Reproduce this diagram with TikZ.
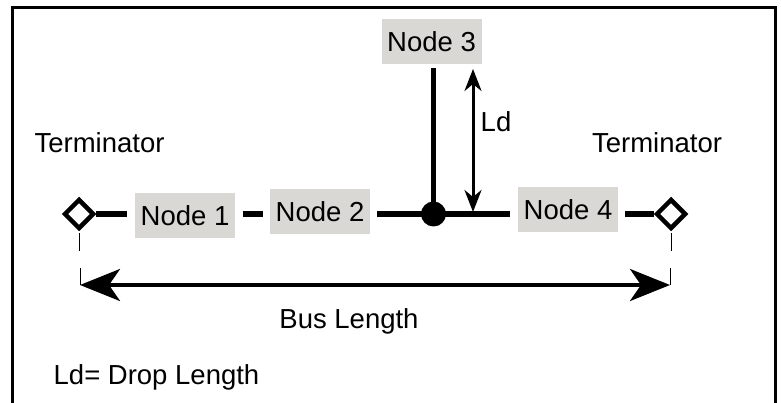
\documentclass[tikz,border=0pt]{standalone}
\usepackage{fontspec}
\setmainfont{Liberation Sans}
\usetikzlibrary{shapes.geometric,arrows.meta}
\definecolor{nodegray}{RGB}{217,216,212}
\tikzset{
  every node/.style={font=\fontsize{27.5}{32}\selectfont},
  busnode/.style={fill=nodegray, minimum width=100pt, minimum height=45pt, inner sep=0pt},
  label/.style={inner sep=0pt},
  bus/.style={line width=6pt},
  term/.style={diamond, draw, line width=4.5pt, minimum width=30pt, minimum height=30pt, inner sep=0pt, fill=white},
  tick/.style={line width=1pt},
  bigarrow/.style={line width=4pt, {Stealth[length=40pt, width=32pt, inset=11pt]}-{Stealth[length=40pt, width=32pt, inset=11pt]}},
  ldarrow/.style={line width=3pt, {Stealth[length=22pt, width=17pt, inset=7pt]}-{Stealth[length=22pt, width=17pt, inset=7pt]}},
  frame/.style={line width=3pt}
}
\begin{document}
\begin{tikzpicture}[x=1pt, y=-1pt]
\useasboundingbox (0,0) rectangle (781,403);
\draw[frame] (12,403) -- (12,8) -- (775,8) -- (775,403);

% bus nodes
\node[busnode] (n1) at (185,215.5) {Node 1};
\node[busnode] (n2) at (320,212) {Node 2};
\node[busnode] (n3) at (431.5,41.5) {Node 3};
\node[busnode] (n4) at (568,210) {Node 4};

% terminators
\node[term] (t1) at (79,214) {};
\node[term] (t2) at (671,214) {};
\coordinate (j) at (433.5,214);

% bus segments
\draw[bus] (t1.east) -- ([xshift=-8pt]n1.west |- t1);
\draw[bus] ([xshift=8pt]n1.east |- t1) -- ([xshift=-7pt]n2.west |- t1);
\draw[bus] ([xshift=7pt]n2.east |- t1) -- ([xshift=-8pt]n4.west |- t1);
\draw[bus] ([xshift=7pt]n4.east |- t1) -- (t2.west);

% drop
\draw[line width=5.5pt] ([yshift=-4pt]j |- n3.south) -- (j);
\fill (j) circle (12.5pt);

% Ld arrow
\coordinate (ld1) at (473,69);
\coordinate (ld2) at (473,212);
\draw[ldarrow] (ld1) -- (ld2);
\node[label] (ldt) at (496,122) {Ld};

% terminator labels
\node[label] (tl1) at (99.5,143) {Terminator};
\node[label] (tl2) at (657,143) {Terminator};

% bus length
\coordinate (bl1) at (80,285);
\coordinate (bl2) at (670,285);
\draw[tick] ([yshift=-2pt]t1.south) -- ++(0,18);
\draw[tick] ([yshift=-2pt]t2.south) -- ++(0,18);
\draw[tick] (bl1) -- ++(0,-17);
\draw[tick] (bl2) -- ++(0,-17);
\draw[bigarrow] (bl1) -- (bl2);
\node[label] (blt) at (349,321) {Bus Length};

\node[label] (legend) at (156.5,377) {Ld= Drop Length};
\end{tikzpicture}
\end{document}
